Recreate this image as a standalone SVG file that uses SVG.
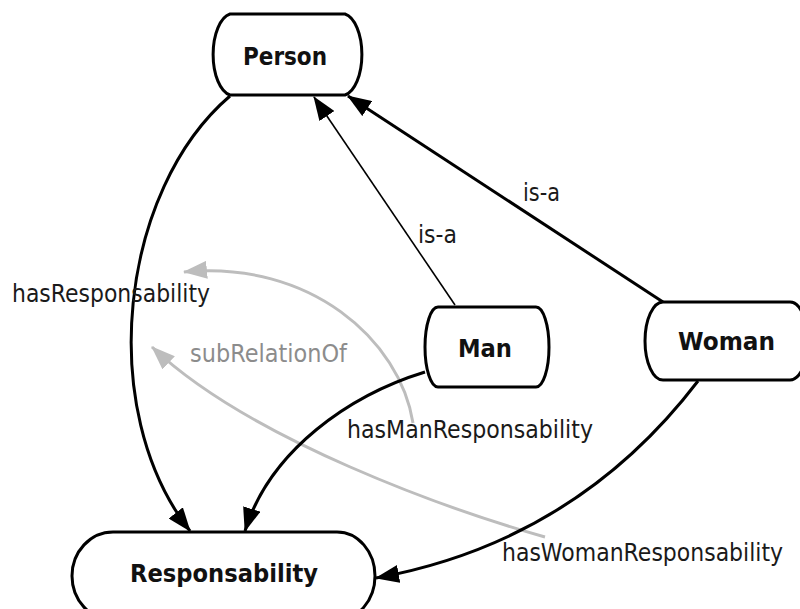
<svg xmlns="http://www.w3.org/2000/svg" width="800" height="609" viewBox="0 0 800 609">
  <defs>
    <style>
      .node { fill: #ffffff; stroke: #000000; stroke-width: 3; }
      .title { font-family: "DejaVu Sans", Verdana, sans-serif; font-weight: bold; font-size: 24.5px; fill: #111111; }
      .lbl { font-family: "DejaVu Sans", Verdana, sans-serif; font-size: 24.5px; fill: #1a1a1a; }
      .sub { font-family: "DejaVu Sans", Verdana, sans-serif; font-size: 24.5px; fill: #8c8c8c; }
      .edge { fill: none; stroke: #000000; stroke-width: 3; }
      .thin { fill: none; stroke: #000000; stroke-width: 1.6; }
      .gray { fill: none; stroke: #bdbdbd; stroke-width: 3; }
    </style>
    <marker id="arrow" viewBox="0 0 24 18" refX="23" refY="9" markerWidth="24" markerHeight="18" markerUnits="userSpaceOnUse" orient="auto">
      <path d="M0,0 L24,9 L0,18 z" fill="#000000"/>
    </marker>
    <marker id="arrowGray" viewBox="0 0 24 18" refX="23" refY="9" markerWidth="24" markerHeight="18" markerUnits="userSpaceOnUse" orient="auto">
      <path d="M0,0 L24,9 L0,18 z" fill="#bdbdbd"/>
    </marker>
  </defs>

  <rect width="800" height="609" fill="#ffffff"/>

  <!-- connectors -->
  <g id="connectors">
    <!-- subRelationOf links (gray) -->
    <path class="gray" d="M413,423 C400,340 310,260 184,272" marker-end="url(#arrowGray)"/>
    <path class="gray" d="M545,537 C450,510 250,440 152,347" marker-end="url(#arrowGray)"/>
    <!-- hasResponsability -->
    <path class="edge" d="M230,96 C120,190 95,410 190,531" marker-end="url(#arrow)"/>
    <!-- hasManResponsability -->
    <path class="edge" d="M425,372 C350,395 270,450 245,531" marker-end="url(#arrow)"/>
    <!-- hasWomanResponsability -->
    <path class="edge" d="M698,381 C630,470 530,550 376,578" marker-end="url(#arrow)"/>
    <!-- is-a: Man to Person -->
    <path class="thin" d="M455,305 L314,97" marker-end="url(#arrow)"/>
    <!-- is-a: Woman to Person -->
    <path class="edge" d="M663,302 L348,96" marker-end="url(#arrow)"/>

    <text class="lbl" x="12" y="302" textLength="198" lengthAdjust="spacingAndGlyphs">hasResponsability</text>
    <text class="sub" x="190" y="362" textLength="157" lengthAdjust="spacingAndGlyphs">subRelationOf</text>
    <text class="lbl" x="418" y="243" textLength="39" lengthAdjust="spacingAndGlyphs">is-a</text>
    <text class="lbl" x="523" y="201" textLength="37" lengthAdjust="spacingAndGlyphs">is-a</text>
    <text class="lbl" x="347" y="438" textLength="246" lengthAdjust="spacingAndGlyphs">hasManResponsability</text>
    <text class="lbl" transform="translate(502,561) scale(1,1.1)" x="0" y="0" style="font-size:22px">hasWomanResponsability</text>
  </g>

  <!-- nodes -->
  <g id="person">
    <path class="node" d="M230,14 H345 A20,41 0 0 1 345,95 H230 A20,41 0 0 1 230,14 Z"/>
    <text class="title" x="243" y="65" textLength="84" lengthAdjust="spacingAndGlyphs">Person</text>
  </g>
  <g id="man">
    <path class="node" d="M438,307 H536 A13,40 0 0 1 536,387 H438 A13,40 0 0 1 438,307 Z"/>
    <text class="title" x="458" y="357" textLength="54" lengthAdjust="spacingAndGlyphs">Man</text>
  </g>
  <g id="woman">
    <path class="node" d="M663,302 H790 A18,39 0 0 1 790,380 H663 A18,39 0 0 1 663,302 Z"/>
    <text class="title" x="678" y="350" textLength="97" lengthAdjust="spacingAndGlyphs">Woman</text>
  </g>
  <g id="responsability">
    <path class="node" d="M113,532 H337 A38,44 0 0 1 337,620 H113 A41,44 0 0 1 113,532 Z"/>
    <text class="title" x="130" y="582" textLength="188" lengthAdjust="spacingAndGlyphs">Responsability</text>
  </g>
</svg>
